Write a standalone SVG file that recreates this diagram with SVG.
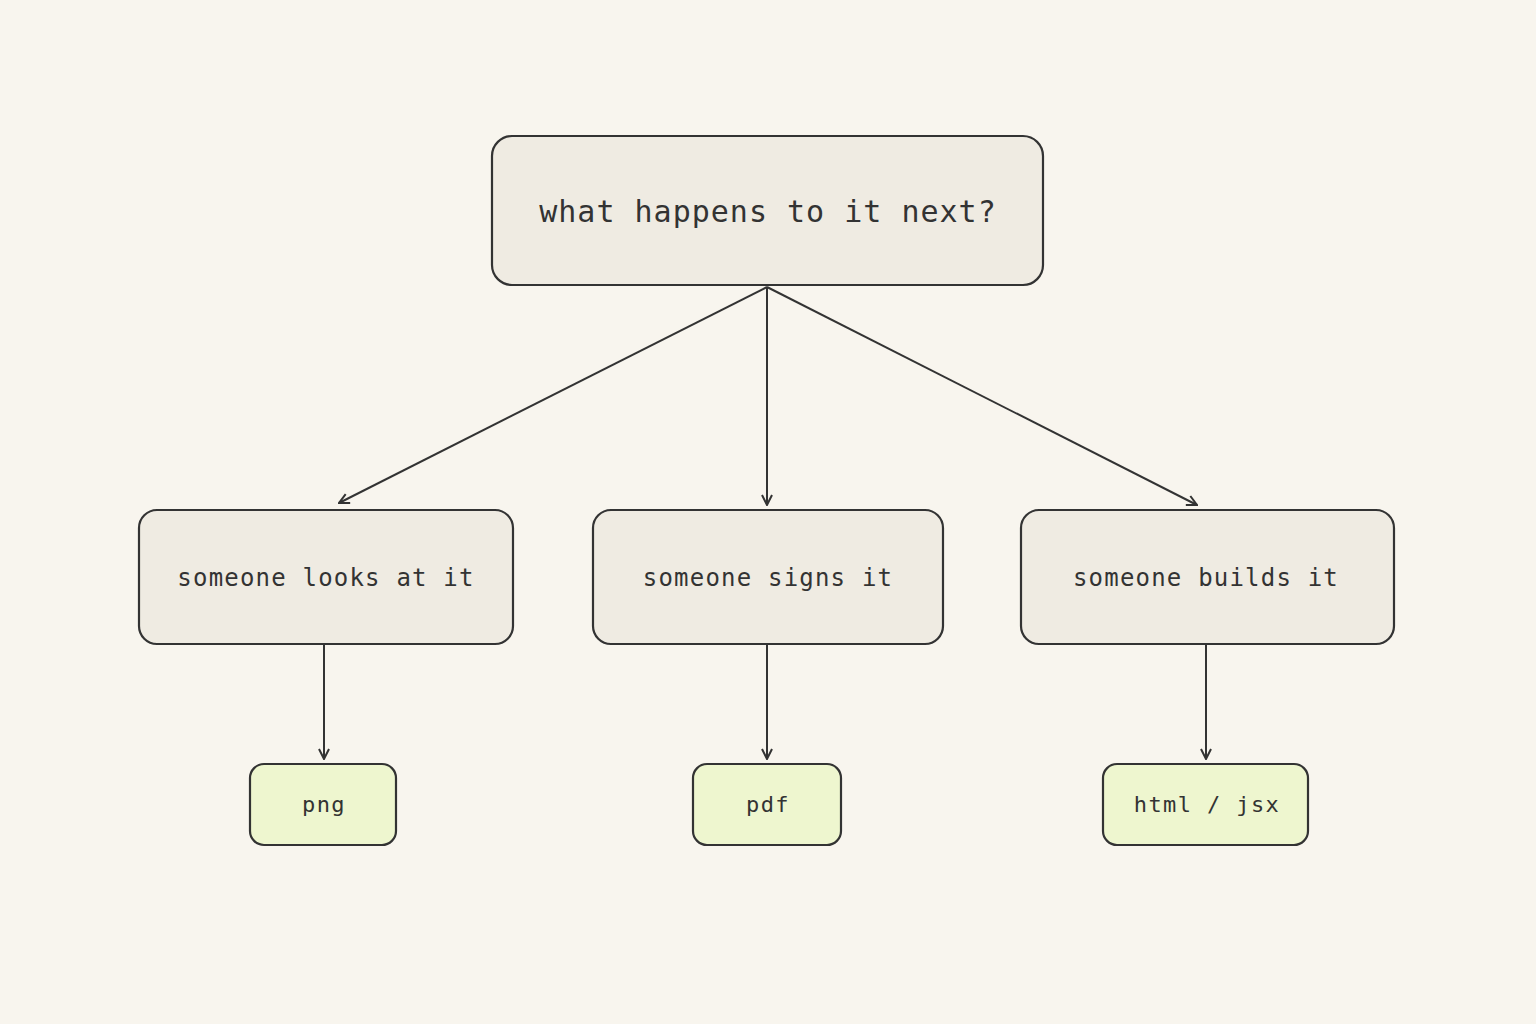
<svg xmlns="http://www.w3.org/2000/svg" width="1536" height="1024" viewBox="0 0 1536 1024">
<defs>
<style>
.n{fill:#efebe2;stroke:#333;stroke-width:2.2}
.g{fill:#eef6cf;stroke:#333;stroke-width:2.2}
text{font-family:"DejaVu Sans Mono","Liberation Mono",monospace;fill:#333;text-anchor:middle}
.c{stroke:#333;stroke-width:2;fill:none;marker-end:url(#a)}
</style>
<marker id="a" viewBox="0 0 12 12" refX="11" refY="6" markerWidth="12" markerHeight="12" markerUnits="userSpaceOnUse" orient="auto"><path d="M1,1 L11,6 L1,11" fill="none" stroke="#333" stroke-width="2"/></marker>
</defs>
<rect width="1536" height="1024" fill="#f8f5ee"/>
<g id="connectors">
<path class="c" d="M767,287 L339,503"/>
<path class="c" d="M767,287 L767,505"/>
<path class="c" d="M767,287 L1197,505"/>
<path class="c" d="M324,645 L324,759"/>
<path class="c" d="M767,645 L767,759"/>
<path class="c" d="M1206,645 L1206,759"/>
</g>
<g id="root"><rect class="n" x="492" y="136" width="551" height="149" rx="20"/><text x="768" y="222" font-size="30" letter-spacing="1">what happens to it next?</text></g>
<g id="looks"><rect class="n" x="139" y="510" width="374" height="134" rx="18"/><text x="326" y="586" font-size="24" letter-spacing="1.2">someone looks at it</text></g>
<g id="signs"><rect class="n" x="593" y="510" width="350" height="134" rx="18"/><text x="768" y="586" font-size="24" letter-spacing="1.2">someone signs it</text></g>
<g id="builds"><rect class="n" x="1021" y="510" width="373" height="134" rx="18"/><text x="1206" y="586" font-size="24" letter-spacing="1.2">someone builds it</text></g>
<g id="png"><rect class="g" x="250" y="764" width="146" height="81" rx="14"/><text x="324" y="812" font-size="22" letter-spacing="1.4">png</text></g>
<g id="pdf"><rect class="g" x="693" y="764" width="148" height="81" rx="14"/><text x="768" y="812" font-size="22" letter-spacing="1.4">pdf</text></g>
<g id="html"><rect class="g" x="1103" y="764" width="205" height="81" rx="14"/><text x="1207" y="812" font-size="22" letter-spacing="1.4">html / jsx</text></g>
</svg>
